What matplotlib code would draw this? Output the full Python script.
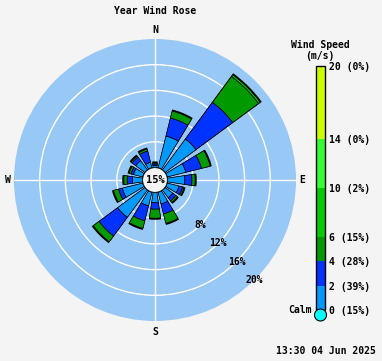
import numpy as np
import matplotlib
matplotlib.use('Agg')
import matplotlib as mpl
import matplotlib.pyplot as plt
from matplotlib.colors import ListedColormap, BoundaryNorm
from matplotlib.patches import Circle, Ellipse

plt.rcParams['font.family'] = 'DejaVu Sans Mono'
plt.rcParams['font.weight'] = 'bold'
plt.rcParams['font.size'] = 7

# wind directions (16 points) and percentage of time per speed class
directions = ['N', 'NNE', 'NE', 'ENE', 'E', 'ESE', 'SE', 'SSE',
              'S', 'SSW', 'SW', 'WSW', 'W', 'WNW', 'NW', 'NNW']
angles = [0, 22.5, 45, 67.5, 90, 112.5, 135, 157.5,
          180, 202.5, 225, 247.5, 270, 292.5, 315, 337.5]
spd_0_2 = [0.3, 5.1, 6.0, 3.0, 2.7, 1.9, 1.5, 1.9, 1.6, 2.2, 5.3, 3.3, 1.6, 1.5, 1.8, 0.9]
spd_2_4 = [0.25, 2.9, 7.1, 2.5, 1.1, 0.6, 0.6, 1.6, 1.0, 2.4, 3.6, 0.6, 0.8, 0.4, 0.7, 1.8]
spd_4_6 = [0.15, 1.1, 5.0, 1.4, 0.5, 0.2, 0.3, 1.5, 1.4, 1.2, 1.1, 0.8, 0.5, 0.3, 0.2, 0.3]
spd_6_10 = [0, 0, 0.3, 0, 0, 0, 0, 0, 0, 0, 0, 0, 0, 0, 0, 0]
calm_pct = 15

speed_bounds = [0, 2, 4, 6, 10, 14, 20]
speed_pcts = [15, 39, 28, 15, 2, 0, 0]
speed_colors = ['#0099ff', '#0033ff', '#009900', '#00cc00', '#33ff33', '#ccff00']

ring_pcts = [4, 8, 12, 16]
ring_labels = [8, 12, 16, 20]

W, H = 382, 361
fig = plt.figure(figsize=(W / 100, H / 100), dpi=100, facecolor='#f4f4f4')

cx, cy, R = 155, 180, 141
calm_px = 12.5
ax = fig.add_axes([(cx - R) / W, 1 - (cy + R) / H, 2 * R / W, 2 * R / H],
                  projection='polar')
ax.set_facecolor('#98c8f5')
ax.set_theta_zero_location('N')
ax.set_theta_direction(-1)
ax.set_ylim(0, 20)
ax.set_rorigin(-20 * calm_px / (R - calm_px))
ax.set_rticks(ring_pcts)
ax.set_yticklabels([])
ax.set_thetagrids([0, 90, 180, 270], labels=[])
ax.grid(color='white', lw=1)
ax.spines['polar'].set_visible(False)

theta = np.deg2rad(angles)
width = np.deg2rad(17)
series = [spd_0_2, spd_2_4, spd_4_6, spd_6_10]
total = np.sum(series, axis=0)

# black backing gives the dark rim at the end of each bar
ax.bar(theta, total + 0.25, width=width + np.deg2rad(0.6), color='black', zorder=2)

bottom = np.zeros(len(angles))
for vals, col in zip(series, speed_colors):
    vals = np.array(vals)
    m = vals > 0
    ax.bar(theta[m], vals[m], width=width, bottom=bottom[m], color=col,
           edgecolor='black', lw=0.5, zorder=3)
    bottom += vals

ax.add_patch(Circle((0.5, 0.5), calm_px / (2 * R), transform=ax.transAxes,
                    fc='#00ffff', ec='black', lw=0.8, zorder=5))
ax.text(0.5, 0.5, f'{calm_pct}%', transform=ax.transAxes, ha='center',
        va='center', fontsize=7.5, zorder=6)

for p in ring_labels:
    ax.text(np.deg2rad(135), p, f'{p}%', ha='center', va='center',
            clip_on=False, zorder=4)

px_per_pct = (R - calm_px) / 20
for lab, ang, dist in [('N', 0, 150), ('E', 90, 147), ('S', 180, 152), ('W', 270, 147)]:
    ax.text(np.deg2rad(ang), (dist - calm_px) / px_per_pct, lab,
            ha='center', va='center', clip_on=False)

fig.text(155 / W, 1 - 11 / H, 'Year Wind Rose', ha='center', va='center')

# speed legend bar
cax = fig.add_axes([316 / W, 1 - 310 / H, 9 / W, 244 / H])
cmap = ListedColormap(speed_colors)
norm = BoundaryNorm(speed_bounds, cmap.N)
cb = mpl.colorbar.ColorbarBase(cax, cmap=cmap, norm=norm, boundaries=speed_bounds,
                               spacing='proportional', ticks=speed_bounds)
cb.ax.set_yticklabels([f'{b} ({p}%)' for b, p in zip(speed_bounds, speed_pcts)])
cax.tick_params(length=0, pad=3)
cb.outline.set_linewidth(1)

fig.add_artist(Ellipse((320.5 / W, 1 - 315 / H), 12 / W, 12 / H,
                       transform=fig.transFigure, fc='#00ffff', ec='black', lw=0.8))
fig.text(312 / W, 1 - 310 / H, 'Calm', ha='right', va='center')
fig.text(320 / W, 1 - 45 / H, 'Wind Speed', ha='center', va='center')
fig.text(320 / W, 1 - 56 / H, '(m/s)', ha='center', va='center')

fig.text(376 / W, 1 - 351 / H, '13:30 04 Jun 2025', ha='right', va='center')

fig.savefig('out.png', dpi=100, facecolor=fig.get_facecolor())
